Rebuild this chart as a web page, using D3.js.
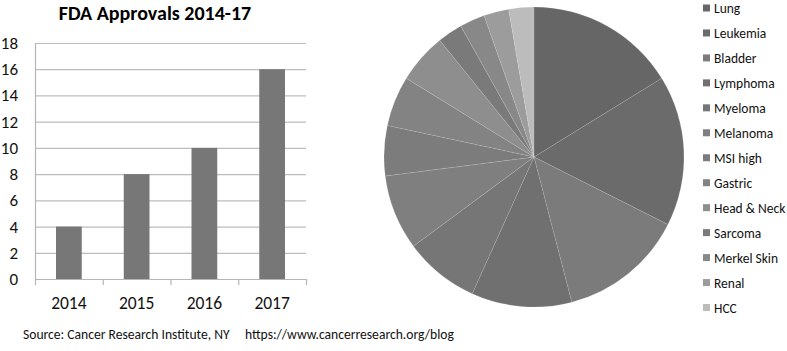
<!DOCTYPE html>
<html>
<head>
<meta charset="utf-8">
<script src="https://cdn.jsdelivr.net/npm/d3@7"></script>
<style>
  body { margin: 0; background: #fff; }
  svg { display: block; font-family: Carlito, Calibri, Lato, sans-serif; }
</style>
</head>
<body>
<div id="chart"></div>
<script>
// bar chart data
const years = ['2014', '2015', '2016', '2017'];
const approvals = [4, 8, 10, 16];
const yTicks = [0, 2, 4, 6, 8, 10, 12, 14, 16, 18];

// pie data (approvals per cancer type)
const cancers = ['Lung', 'Leukemia', 'Bladder', 'Lymphoma', 'Myeloma', 'Melanoma', 'MSI high',
  'Gastric', 'Head & Neck', 'Sarcoma', 'Merkel Skin', 'Renal', 'HCC'];
const counts = [6, 6, 5, 4, 3, 3, 2, 2, 2, 1, 1, 1, 1];
const grays = ['#666666', '#6b6b6b', '#7b7b7b', '#707070', '#767676', '#7f7f7f', '#7c7c7c',
  '#838383', '#8e8e8e', '#7a7a7a', '#888888', '#9c9c9c', '#bcbcbc'];

const width = 787, height = 351;
const svg = d3.select('#chart').append('svg')
  .attr('width', width)
  .attr('height', height);

// --- bar chart ---
const plot = { left: 35, right: 306, top: 43, bottom: 279 };
const x = d3.scaleBand().domain(years).range([plot.left, plot.right]).paddingInner(0.62).paddingOuter(0.31);
const xAxisBand = d3.scaleBand().domain(years).range([plot.left, plot.right]);
const y = d3.scaleLinear().domain([0, 18]).range([plot.bottom, plot.top]);

svg.append('text')
  .attr('x', 155)
  .attr('y', 20)
  .attr('text-anchor', 'middle')
  .attr('font-size', '20px')
  .attr('font-weight', 'bold')
  .attr('fill', '#000')
  .text('FDA Approvals 2014-17');

svg.append('g')
  .selectAll('line')
  .data(yTicks.filter(d => d > 0))
  .enter()
  .append('line')
  .attr('x1', plot.left)
  .attr('x2', plot.right)
  .attr('y1', d => y(d) + 0.5)
  .attr('y2', d => y(d) + 0.5)
  .attr('stroke', '#bdbdbd')
  .attr('stroke-width', 1.2);

svg.append('g')
  .selectAll('text')
  .data(yTicks)
  .enter()
  .append('text')
  .attr('x', 18)
  .attr('y', d => y(d))
  .attr('dy', '0.35em')
  .attr('text-anchor', 'end')
  .attr('font-size', '17px')
  .attr('fill', '#111')
  .text(d => d);

svg.append('g')
  .selectAll('rect')
  .data(approvals)
  .enter()
  .append('rect')
  .attr('x', (d, i) => x(years[i]))
  .attr('width', x.bandwidth())
  .attr('y', d => y(d))
  .attr('height', d => y(0) - y(d))
  .attr('fill', '#777777');

// axes
svg.append('line')
  .attr('x1', plot.left + 0.5).attr('x2', plot.left + 0.5)
  .attr('y1', plot.top).attr('y2', plot.bottom)
  .attr('stroke', '#b5b5b5').attr('stroke-width', 1.2);
svg.append('line')
  .attr('x1', plot.left).attr('x2', plot.right)
  .attr('y1', plot.bottom + 0.5).attr('y2', plot.bottom + 0.5)
  .attr('stroke', '#b5b5b5').attr('stroke-width', 1.2);

const tickXs = years.map(d => xAxisBand(d)).concat([plot.right]);
svg.append('g')
  .selectAll('line')
  .data(tickXs)
  .enter()
  .append('line')
  .attr('x1', d => d + 0.5).attr('x2', d => d + 0.5)
  .attr('y1', plot.bottom).attr('y2', plot.bottom + 6)
  .attr('stroke', '#b5b5b5').attr('stroke-width', 1.2);

svg.append('g')
  .selectAll('text')
  .data(years)
  .enter()
  .append('text')
  .attr('x', d => xAxisBand(d) + xAxisBand.bandwidth() / 2)
  .attr('y', 309)
  .attr('text-anchor', 'middle')
  .attr('font-size', '17.5px')
  .attr('fill', '#111')
  .text(d => d);

// --- pie chart ---
const pieData = cancers.map((c, i) => ({ name: c, value: counts[i], color: grays[i] }));
const pie = d3.pie().value(d => d.value).sort(null);
const arc = d3.arc().innerRadius(0).outerRadius(150);

svg.append('g')
  .attr('transform', 'translate(534,157)')
  .selectAll('path')
  .data(pie(pieData))
  .enter()
  .append('path')
  .attr('d', arc)
  .attr('fill', d => d.data.color)
  .attr('stroke', 'rgba(255,255,255,0.18)')
  .attr('stroke-width', 0.6);

// legend
const legendY = d3.scalePoint().domain(cancers).range([8.5, 308]);
const legend = svg.append('g')
  .selectAll('g')
  .data(pieData)
  .enter()
  .append('g')
  .attr('transform', d => `translate(703,${legendY(d.name)})`);
legend.append('rect')
  .attr('x', 0).attr('y', -4)
  .attr('width', 7).attr('height', 7)
  .attr('fill', d => d.color);
legend.append('text')
  .attr('x', 11)
  .attr('y', 0)
  .attr('dy', '0.35em')
  .attr('font-size', '13.5px')
  .attr('fill', '#111')
  .text(d => d.name);

// source line
svg.append('text')
  .attr('x', 23)
  .attr('y', 339)
  .attr('font-size', '13.6px')
  .attr('fill', '#111')
  .attr('xml:space', 'preserve')
  .style('white-space', 'pre')
  .text('Source: Cancer Research Institute, NY     https://www.cancerresearch.org/blog');
</script>
</body>
</html>
